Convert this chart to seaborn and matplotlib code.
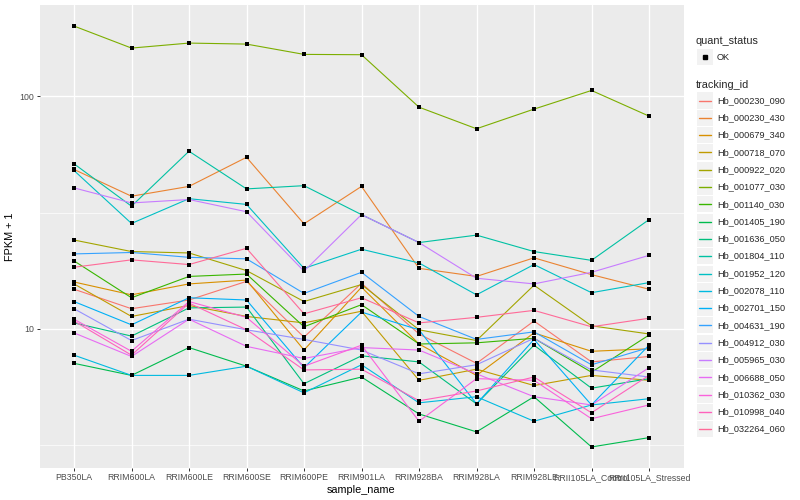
import numpy as np
import pandas as pd
import matplotlib
matplotlib.use("Agg")
import matplotlib.pyplot as plt
import seaborn as sns
from matplotlib.patches import Rectangle
from matplotlib.lines import Line2D
from matplotlib.ticker import FixedLocator, NullFormatter

# ggplot-like grey theme
sns.set_theme(style="darkgrid")
plt.rcParams['font.family'] = ['Liberation Sans', 'DejaVu Sans']

samples = ["PB350LA", "RRIM600LA", "RRIM600LE", "RRIM600SE", "RRIM600PE", "RRIM901LA",
           "RRIM928BA", "RRIM928LA", "RRIM928LE", "RRII105LA_Control", "RRII105LA_Stressed"]

tracking_ids = ["Hb_000230_090", "Hb_000230_430", "Hb_000679_340", "Hb_000718_070",
                "Hb_000922_020", "Hb_001077_030", "Hb_001140_030", "Hb_001405_190",
                "Hb_001636_050", "Hb_001804_110", "Hb_001952_120", "Hb_002078_110",
                "Hb_002701_150", "Hb_004631_190", "Hb_004912_030", "Hb_005965_030",
                "Hb_006688_050", "Hb_010362_030", "Hb_010998_040", "Hb_032264_060"]

# FPKM per sample (same order as samples)
hb_000230_090 = [13.8, 11.2, 12.3, 15.0, 8.2, 14.7, 8.5, 6.1, 9.8, 6.2, 6.6]
hb_000230_430 = [47.5, 36.2, 40.0, 53.7, 27.3, 40.0, 17.2, 15.8, 19.2, 16.1, 13.8]
hb_000679_340 = [14.9, 13.0, 14.6, 15.2, 7.1, 14.1, 7.6, 5.3, 8.6, 7.0, 7.2]
hb_000718_070 = [14.6, 10.3, 11.6, 10.3, 9.6, 10.9, 5.0, 5.7, 4.7, 5.3, 5.0]
hb_000922_020 = [23.1, 20.5, 20.2, 16.8, 12.1, 14.5, 8.9, 7.9, 14.4, 9.3, 8.5]
hb_001077_030 = [199.9, 160.5, 168.7, 167.0, 150.7, 150.2, 88.9, 71.6, 87.2, 105.1, 81.3]
hb_001140_030 = [18.6, 12.6, 15.8, 16.2, 9.2, 11.7, 7.6, 7.7, 8.1, 5.5, 8.4]
hb_001405_190 = [6.1, 5.3, 7.3, 5.9, 4.4, 5.2, 3.3, 2.6, 4.1, 2.1, 2.4]
hb_001636_050 = [9.6, 8.3, 11.3, 11.4, 4.8, 6.65, 6.2, 3.75, 7.5, 4.55, 5.1]
hb_001804_110 = [50.3, 32.7, 57.1, 39.0, 40.3, 30.0, 22.5, 24.3, 20.5, 18.7, 28.5]
hb_001952_120 = [47.0, 27.4, 35.3, 33.3, 17.2, 21.0, 18.2, 13.0, 17.9, 13.3, 14.8]
hb_002078_110 = [6.7, 5.3, 5.3, 5.9, 4.3, 6.0, 3.8, 4.1, 3.0, 3.7, 4.0]
hb_002701_150 = [12.1, 9.4, 12.6, 12.3, 5.8, 10.8, 8.9, 3.75, 8.0, 3.7, 7.5]
hb_004631_190 = [20.0, 20.3, 19.3, 19.0, 13.2, 16.5, 10.3, 8.0, 8.7, 6.0, 7.3]
hb_004912_030 = [11.2, 7.9, 10.0, 8.9, 8.0, 7.1, 5.4, 6.0, 8.1, 5.65, 5.2]
hb_005965_030 = [39.4, 33.8, 35.0, 30.9, 16.7, 30.0, 22.5, 15.5, 14.6, 16.5, 19.7]
hb_006688_050 = [8.6, 6.6, 10.0, 7.4, 6.45, 7.3, 7.1, 5.4, 4.1, 3.7, 5.8]
hb_010362_030 = [10.0, 7.0, 12.1, 10.2, 5.9, 7.5, 3.0, 5.1, 5.0, 3.1, 3.7]
hb_010998_040 = [9.8, 6.7, 11.9, 8.9, 5.65, 5.7, 3.9, 4.4, 5.2, 3.35, 5.3]
hb_032264_060 = [17.4, 18.8, 17.9, 21.2, 10.6, 12.6, 9.6, 10.2, 11.0, 9.2, 10.1]

series = [hb_000230_090, hb_000230_430, hb_000679_340, hb_000718_070, hb_000922_020,
          hb_001077_030, hb_001140_030, hb_001405_190, hb_001636_050, hb_001804_110,
          hb_001952_120, hb_002078_110, hb_002701_150, hb_004631_190, hb_004912_030,
          hb_005965_030, hb_006688_050, hb_010362_030, hb_010998_040, hb_032264_060]


def hcl_hex(h, c=100.0, l=65.0):
    """polar LUV -> sRGB hex, like R's hcl() used by ggplot's hue_pal"""
    hr = np.deg2rad(h)
    u, v = c * np.cos(hr), c * np.sin(hr)
    xn, yn, zn = 95.047, 100.0, 108.883
    un = 4 * xn / (xn + 15 * yn + 3 * zn)
    vn = 9 * yn / (xn + 15 * yn + 3 * zn)
    y = yn * ((l + 16) / 116) ** 3
    up = u / (13 * l) + un
    vp = v / (13 * l) + vn
    x = y * 9 * up / (4 * vp)
    z = y * (12 - 3 * up - 20 * vp) / (4 * vp)
    xyz = np.array([x, y, z]) / 100
    m = np.array([[3.2404542, -1.5371385, -0.4985314],
                  [-0.9692660, 1.8760108, 0.0415560],
                  [0.0556434, -0.2040259, 1.0572252]])
    rgb = m @ xyz
    rgb = np.where(rgb <= 0.0031308, 12.92 * rgb, 1.055 * np.clip(rgb, 0, None) ** (1 / 2.4) - 0.055)
    rgb = np.clip(rgb, 0, 1)
    return "#%02X%02X%02X" % tuple(int(round(c * 255)) for c in rgb)


n = len(tracking_ids)
hues = np.linspace(15, 375, n + 1)[:n]
colors = [hcl_hex(h) for h in hues]
palette = dict(zip(tracking_ids, colors))

rows = []
for tid, vals in zip(tracking_ids, series):
    for i, (s, v) in enumerate(zip(samples, vals)):
        rows.append({"tracking_id": tid, "sample_name": s, "pos": i, "fpkm": v})
df = pd.DataFrame(rows)
df["fpkm1"] = df["fpkm"] + 1

fig = plt.figure(figsize=(8, 5), dpi=100)
fig.patch.set_facecolor("white")
ax = fig.add_axes([39.5 / 800, 1 - 468 / 500, 644 / 800, 463 / 500])
ax.set_facecolor("#EBEBEB")

sns.lineplot(data=df, x="pos", y="fpkm1", hue="tracking_id", hue_order=tracking_ids,
             palette=palette, estimator=None, sort=False, lw=0.8, legend=False, ax=ax)
sns.scatterplot(data=df, x="pos", y="fpkm1", color="black", s=12, marker="s", linewidth=0,
                legend=False, ax=ax, zorder=5)

ax.set_yscale("log")
lo, hi = np.log10(df["fpkm1"].min()), np.log10(df["fpkm1"].max())
pad = 0.05 * (hi - lo)
ax.set_ylim(10 ** (lo - pad), 10 ** (hi + pad))
ax.set_xlim(-0.6, len(samples) - 0.4)

ax.yaxis.set_major_locator(FixedLocator([10, 100]))
ax.set_yticklabels(["10", "100"])
ax.yaxis.set_minor_locator(FixedLocator([10 ** 0.5, 10 ** 1.5]))
ax.yaxis.set_minor_formatter(NullFormatter())
ax.set_xticks(range(len(samples)))
ax.set_xticklabels(samples)

ax.grid(which="major", color="white", lw=0.95)
ax.grid(which="minor", axis="y", color="white", lw=0.5)
ax.set_axisbelow(True)
for sp in ax.spines.values():
    sp.set_visible(False)
ax.tick_params(which="major", length=2.2, width=0.7, color="#333333", pad=1.5,
               labelsize=6.3, labelcolor="#4D4D4D", bottom=True, left=True)
ax.tick_params(which="minor", length=0)

ax.set_xlabel("sample_name", fontsize=7.8, color="black", labelpad=2)
ax.set_ylabel("FPKM + 1", fontsize=7.8, color="black", labelpad=3)

# legends drawn ggplot-style on the right
def fx(px):
    return px / 800


def fy(py):
    return 1 - py / 500


key_w, key_h = 16, 16
fig.text(fx(696), fy(40.5), "quant_status", fontsize=7.8, va="center", ha="left")
fig.add_artist(Rectangle((fx(696.5), fy(57 + key_h / 2)), key_w / 800, key_h / 500,
                         transform=fig.transFigure, facecolor="#F2F2F2", edgecolor="none"))
fig.add_artist(Line2D([fx(704.5)], [fy(57)], transform=fig.transFigure, marker="s",
                      markersize=2.4, color="black", lw=0))
fig.text(fx(717), fy(57), "OK", fontsize=6.6, va="center", ha="left")

fig.text(fx(696), fy(85), "tracking_id", fontsize=7.8, va="center", ha="left")
step = 17.3
for i, (tid, col) in enumerate(zip(tracking_ids, colors)):
    cy = 100.5 + i * step
    fig.add_artist(Rectangle((fx(696.5), fy(cy + key_h / 2)), key_w / 800, key_h / 500,
                             transform=fig.transFigure, facecolor="#F2F2F2", edgecolor="none"))
    fig.add_artist(Line2D([fx(698.5), fx(710.5)], [fy(cy), fy(cy)], transform=fig.transFigure,
                          color=col, lw=1.0, zorder=3))
    fig.text(fx(717), fy(cy), tid, fontsize=6.6, va="center", ha="left")

fig.savefig("out.png", dpi=100)
